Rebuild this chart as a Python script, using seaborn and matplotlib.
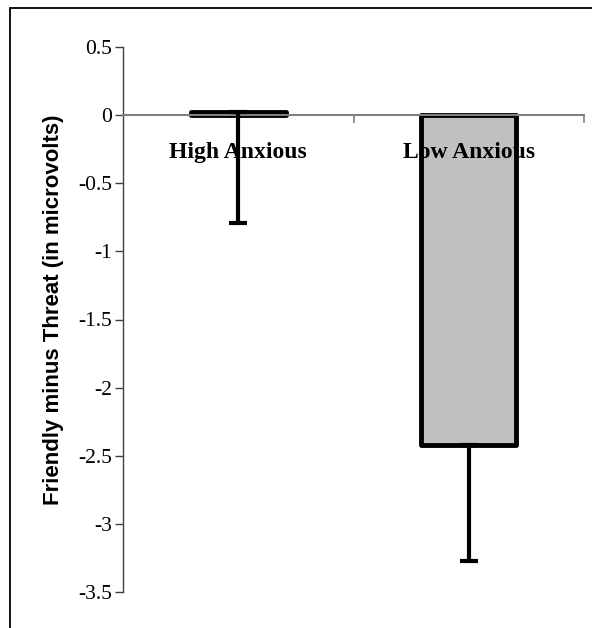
import matplotlib
matplotlib.use("Agg")
import matplotlib.pyplot as plt
import seaborn as sns
import pandas as pd
from matplotlib.patches import Rectangle

categories = ["High Anxious", "Low Anxious"]
means = [0.025, -2.42]
err_lower = [0.815, 0.85]
y_ticks = [0.5, 0, -0.5, -1, -1.5, -2, -2.5, -3, -3.5]
y_tick_labels = ["0.5", "0", "-0.5", "-1", "-1.5", "-2", "-2.5", "-3", "-3.5"]
ylabel = "Friendly minus Threat (in microvolts)"

df = pd.DataFrame({"group": categories, "value": means})

sns.set_style("white")
plt.rcParams["font.family"] = ["Liberation Serif", "DejaVu Serif"]
plt.rcParams["text.color"] = "black"
plt.rcParams["axes.labelcolor"] = "black"
plt.rcParams["xtick.color"] = "black"
plt.rcParams["ytick.color"] = "black"

fig = plt.figure(figsize=(5.92, 6.28), dpi=100)
ax = fig.add_axes([123/592, 1-592/628, (584-123)/592, (592-47)/628])

sns.barplot(data=df, x="group", y="value", hue="group", palette=["#C0C0C0", "#C0C0C0"],
            legend=False, errorbar=None, width=0.41, edgecolor="black", linewidth=3.5,
            ax=ax, zorder=2)
for p in ax.patches:
    p.set_joinstyle("round")

ax.errorbar(range(len(categories)), means, yerr=[err_lower, [0]*len(categories)],
            fmt="none", ecolor="black", elinewidth=3, capsize=6.5, capthick=3, zorder=3)

ax.set_ylim(-3.5, 0.5)
ax.set_xlim(-0.5, 1.5)
ax.set_yticks(y_ticks)
ax.set_yticklabels(y_tick_labels, fontsize=15.5, color="black")
ax.tick_params(axis="y", direction="out", length=6, width=1, color="#404040", pad=2, left=True)

# x axis at zero, ticks at category boundaries
ax.spines["bottom"].set_position(("data", 0))
ax.spines["bottom"].set_color("#808080")
ax.spines["bottom"].set_linewidth(1.5)
ax.spines["left"].set_color("#404040")
ax.spines["left"].set_linewidth(1)
ax.spines["top"].set_visible(False)
ax.spines["right"].set_visible(False)
ax.set_xticks([0.5, 1.5])
ax.set_xticklabels(["", ""])
ax.set_xticks([0, 1], minor=True)
ax.set_xticklabels(categories, minor=True, fontsize=17, fontweight="bold", color="black")
ax.tick_params(axis="x", which="major", direction="out", length=6, width=1.2, color="#808080", bottom=True)
ax.tick_params(axis="x", which="minor", length=0, pad=19)
ax.xaxis.set_zorder(5)
ax.set_xlabel("")
ax.set_ylabel(ylabel, family=["Liberation Sans", "DejaVu Sans"], fontsize=16,
              fontweight="bold", color="black")
ax.yaxis.set_label_coords((64-123)/461, 0.517)

fig.patches.append(Rectangle((9.5/592, -0.1), 1.2, 1.1 - 7.5/628, transform=fig.transFigure,
                             fill=False, edgecolor="black", linewidth=1.3, zorder=0))

fig.savefig("out.png", dpi=100)
